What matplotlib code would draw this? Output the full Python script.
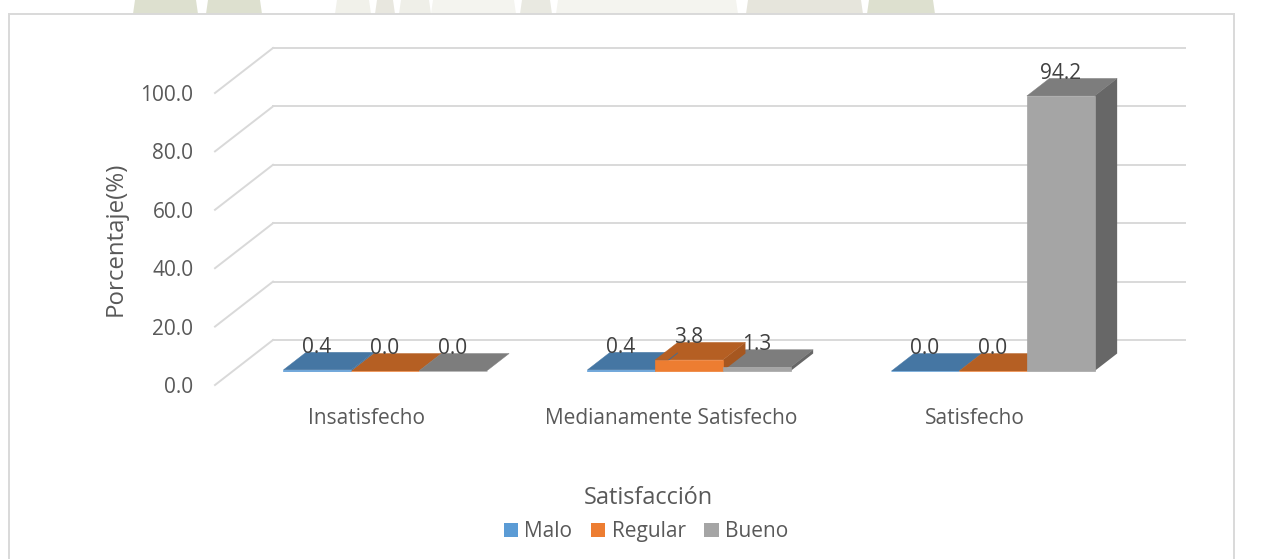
import matplotlib
matplotlib.use("Agg")
import matplotlib.pyplot as plt
from matplotlib.patches import Polygon, Rectangle
from matplotlib.transforms import Affine2D

categories = ["Insatisfecho", "Medianamente Satisfecho", "Satisfecho"]
series_names = ["Malo", "Regular", "Bueno"]
malo = [0.4, 0.4, 0.0]
regular = [0.0, 3.8, 0.0]
bueno = [0.0, 1.3, 94.2]
y_ticks = [0, 20, 40, 60, 80, 100]

FRONT = ["#5B9BD5", "#ED7D31", "#A5A5A5"]
TOP = ["#4576A3", "#B55F23", "#7D7D7D"]
SIDE = ["#3F6C96", "#A65720", "#676767"]
TXT = "#595959"
GRID = "#D9D9D9"

W, H = 1262, 559
plt.rcParams["font.family"] = ["Open Sans", "DejaVu Sans"]
fig = plt.figure(figsize=(W / 100, H / 100), dpi=100)


def fx(p):
    return p / W


def fy(p):
    return 1 - p / H


# page background (faint watermark above the chart) and chart frame
bg = fig.add_axes([0, 0, 1, 1])
bg.set_xlim(0, W)
bg.set_ylim(H, 0)
bg.axis("off")
for a, b, c in [(133, 198, "#DDE0CF"), (206, 262, "#DDE0CF"), (335, 371, "#F1F1EA"), (375, 395, "#E8E7DF"),
                (399, 431, "#EFEFE8"), (431, 516, "#F4F4EF"), (520, 552, "#E9E9E1"), (556, 738, "#F4F4EF"),
                (746, 863, "#E6E5DC"), (867, 935, "#DDE0CF")]:
    bg.add_patch(Polygon([(a + 2, 0), (b - 2, 0), (b, 14), (a, 14)], fc=c, ec="none"))
bg.add_patch(Rectangle((9, 14), 1225, 560, fc="white", ec=GRID, lw=1.4))

# plotting plane: front floor edge is the axes frame
LEFT, RIGHT, BOTTOM, TOP_Y = 215, 1127, 385, 93
ax = fig.add_axes([fx(LEFT), fy(BOTTOM), (RIGHT - LEFT) / W, (BOTTOM - TOP_Y) / H])
ax.set_xlim(0, 3)
ax.set_ylim(0, 100)
ax.patch.set_alpha(0)
for s in ax.spines.values():
    s.set_visible(False)
ax.set_xticks([])
ax.set_yticks(y_ticks)
ax.set_yticklabels([f"{v:.1f}" for v in y_ticks], fontsize=15, color=TXT)
ax.tick_params(axis="y", length=0, pad=15.5)

DX, DY = 58, 45  # full floor depth, px


def tr(frac):
    return ax.transData + Affine2D().translate(DX * frac, DY * frac)


for v in y_ticks:
    ax.plot([0, 3], [v, v], transform=tr(1), color=GRID, lw=1.4, clip_on=False, zorder=1)
    p0 = ax.transData.transform((0, v))
    p1 = tr(1).transform((0, v))
    ax.plot([p0[0], p1[0]], [p0[1], p1[1]], transform=None, color=GRID, lw=1.4, zorder=1, clip_on=False)

BW = 67.7 / 304
D0, D1 = 14 / 45, 31.5 / 45
t0, t1 = tr(D0), tr(D1)
all_series = [malo, regular, bueno]


def pix(t, x, y):
    return t.transform((x, y))


def bar_x(g, i):
    x0 = g + 0.5 + (i - 1.5) * BW
    return x0, x0 + BW


for g in range(3):
    for i, vals in enumerate(all_series):
        v = vals[g]
        x0, x1 = bar_x(g, i)
        ax.add_patch(Polygon([pix(t0, x0, v), pix(t0, x1, v), pix(t1, x1, v), pix(t1, x0, v)],
                             transform=None, fc=TOP[i], ec=TOP[i], lw=0.3, zorder=3 + i * 0.01, clip_on=False))
for g in range(3):
    for i, vals in enumerate(all_series):
        v = vals[g]
        x0, x1 = bar_x(g, i)
        ax.add_patch(Polygon([pix(t0, x1, 0), pix(t0, x1, v), pix(t1, x1, v), pix(t1, x1, 0)],
                             transform=None, fc=SIDE[i], ec="none", zorder=4, clip_on=False))
for g in range(3):
    for i, vals in enumerate(all_series):
        v = vals[g]
        x0, x1 = bar_x(g, i)
        ax.add_patch(Polygon([pix(t0, x0, 0), pix(t0, x1, 0), pix(t0, x1, v), pix(t0, x0, v)],
                             transform=None, fc=FRONT[i], ec=FRONT[i], lw=0.5, zorder=5, clip_on=False))
        top_px = pix(t1, (x0 + x1) / 2, v)
        ax.annotate(f"{v:.1f}", xy=(top_px[0] - 23, top_px[1]), xycoords="figure pixels",
                    xytext=(0, 5), textcoords="offset pixels", ha="center", va="center",
                    fontsize=15, color="#404040", zorder=6, annotation_clip=False)

# category labels
for g, c in enumerate(categories):
    fig.text(fx(ax.transData.transform((g + 0.5, 0))[0]), fy(418), c, ha="center", va="center",
             fontsize=15, color=TXT)

# axis titles
fig.text(fx(116), fy(238.5), "Porcentaje(%)", rotation=90, ha="center", va="center", fontsize=17.3, color=TXT)
fig.text(fx(648.5), fy(497.5), "Satisfacción", ha="center", va="center", fontsize=16.9, color=TXT)

# legend
handles = [Rectangle((0, 0), 1, 1, fc=c, ec="none") for c in FRONT]
leg = fig.legend(handles, series_names, loc="center", bbox_to_anchor=(fx(646), fy(531.5)), ncol=3,
                 frameon=False, fontsize=15, labelcolor=TXT, handlelength=0.68, handleheight=0.68,
                 handletextpad=0.3, columnspacing=0.9, borderpad=0)

fig.savefig("out.png", dpi=100)
